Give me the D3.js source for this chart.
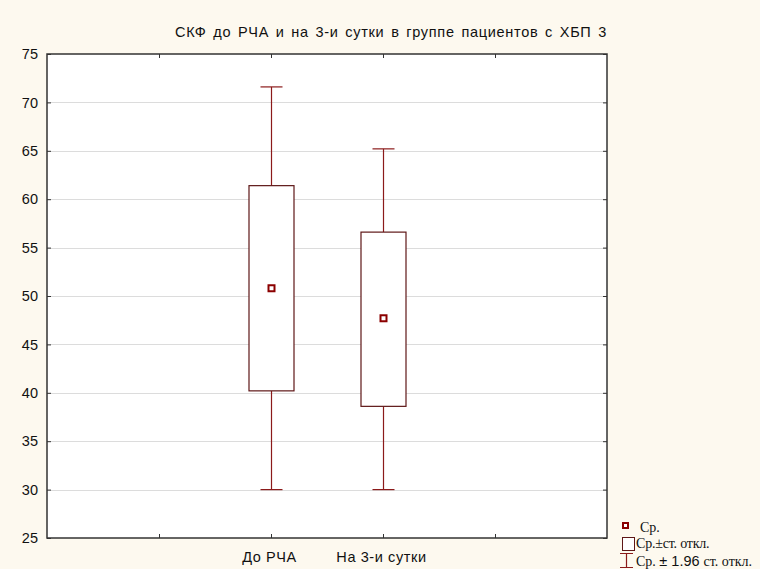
<!DOCTYPE html>
<html>
<head>
<meta charset="utf-8">
<script src="https://cdn.jsdelivr.net/npm/d3@7"></script>
<style>
  html, body { margin: 0; padding: 0; background: #fdf9ef; }
  svg { display: block; }
</style>
</head>
<body>
<svg id="chart" width="760" height="569"></svg>
<script>
// Groups and summary statistics (mean, mean ± SD, mean ± 1.96 SD)
const groups   = ["До РЧА", "На 3-и сутки"];
const means    = [50.8, 47.7];
const sdLow    = [40.2, 38.6];
const sdHigh   = [61.4, 56.6];
const ciLow    = [30.0, 30.0];
const ciHigh   = [71.6, 65.2];
const yTicks   = [25, 30, 35, 40, 45, 50, 55, 60, 65, 70, 75];
const title    = "СКФ до РЧА и на 3-и сутки в группе пациентов с ХБП 3";

const svg = d3.select("#chart");
const plot = { left: 47, right: 607, top: 54, bottom: 538 };
const markColor = "#8b1a1a";
const sans = "Liberation Sans, Arial, sans-serif";
const serif = "Liberation Serif, Times New Roman, serif";

const y = d3.scaleLinear().domain([25, 75]).range([plot.bottom, plot.top]);
// Category axis: groups sit on positions 2 and 3 of a 0..5 frame, ticks at 1..4
const x = d3.scaleLinear().domain([0, 5]).range([plot.left, plot.right]);
const pos = i => x(i + 2);

// Plot background
svg.append("rect")
  .attr("x", plot.left).attr("y", plot.top)
  .attr("width", plot.right - plot.left).attr("height", plot.bottom - plot.top)
  .attr("fill", "#ffffff");

// Horizontal grid lines
svg.append("g").selectAll("line")
  .data(yTicks.filter(t => t > 25 && t < 75))
  .join("line")
  .attr("x1", plot.left).attr("x2", plot.right)
  .attr("y1", d => Math.round(y(d)) + 0.5).attr("y2", d => Math.round(y(d)) + 0.5)
  .attr("stroke", "#dcdcdc").attr("stroke-width", 1);

// Left axis with labels, ticks pointing inward
const yAxis = svg.append("g")
  .attr("transform", `translate(${plot.left},0)`)
  .call(d3.axisLeft(y).tickValues(yTicks).tickSize(-4).tickPadding(9));
yAxis.select(".domain").remove();
yAxis.selectAll(".tick line").attr("stroke", "#333");
yAxis.selectAll("text")
  .attr("font-family", sans).attr("font-size", 14.5).attr("fill", "#111");

// Right axis ticks (no labels)
const yAxisR = svg.append("g")
  .attr("transform", `translate(${plot.right},0)`)
  .call(d3.axisRight(y).tickValues(yTicks).tickSize(-4).tickFormat(""));
yAxisR.select(".domain").remove();
yAxisR.selectAll(".tick line").attr("stroke", "#333");

// Bottom axis with category labels
const xAxis = svg.append("g")
  .attr("transform", `translate(0,${plot.bottom})`)
  .call(d3.axisBottom(x).tickValues([1, 2, 3, 4]).tickSize(-4).tickPadding(14)
    .tickFormat(d => groups[d - 2] || ""));
xAxis.select(".domain").remove();
xAxis.selectAll(".tick line").attr("stroke", "#333");
xAxis.selectAll("text")
  .attr("font-family", sans).attr("font-size", 14.5).attr("fill", "#111")
  .attr("letter-spacing", 0.6).attr("dx", -2);

// Top axis ticks
const xAxisT = svg.append("g")
  .attr("transform", `translate(0,${plot.top})`)
  .call(d3.axisTop(x).tickValues([1, 2, 3, 4]).tickSize(-4).tickFormat(""));
xAxisT.select(".domain").remove();
xAxisT.selectAll(".tick line").attr("stroke", "#333");

// Frame
svg.append("rect")
  .attr("x", plot.left).attr("y", plot.top)
  .attr("width", plot.right - plot.left).attr("height", plot.bottom - plot.top)
  .attr("fill", "none").attr("stroke", "#333").attr("stroke-width", 1.5);

// Whiskers, boxes and means
const boxW = 45, capW = 22;
const g = svg.append("g");
groups.forEach((name, i) => {
  const cx = Math.round(pos(i)) + 0.5;
  // whiskers
  g.append("line").attr("x1", cx).attr("x2", cx)
    .attr("y1", y(ciHigh[i])).attr("y2", y(sdHigh[i]))
    .attr("stroke", markColor).attr("stroke-width", 1.2);
  g.append("line").attr("x1", cx).attr("x2", cx)
    .attr("y1", y(sdLow[i])).attr("y2", y(ciLow[i]))
    .attr("stroke", markColor).attr("stroke-width", 1.2);
  // caps
  [ciHigh[i], ciLow[i]].forEach(v => {
    g.append("line").attr("x1", cx - capW / 2).attr("x2", cx + capW / 2)
      .attr("y1", y(v)).attr("y2", y(v))
      .attr("stroke", markColor).attr("stroke-width", 1.2);
  });
  // box (mean ± SD)
  g.append("rect")
    .attr("x", cx - boxW / 2).attr("y", y(sdHigh[i]))
    .attr("width", boxW).attr("height", y(sdLow[i]) - y(sdHigh[i]))
    .attr("fill", "#ffffff").attr("stroke", "#5e1717").attr("stroke-width", 1.2);
  // mean marker
  g.append("rect")
    .attr("x", cx - 3).attr("y", y(means[i]) - 3)
    .attr("width", 6).attr("height", 6)
    .attr("fill", "#ffffff").attr("stroke", "#8b0000").attr("stroke-width", 2);
});

// Title
svg.append("text")
  .attr("x", 391).attr("y", 37)
  .attr("text-anchor", "middle")
  .attr("font-family", sans)
  .attr("font-size", 14.5).attr("fill", "#111")
  .attr("letter-spacing", 0.7).attr("word-spacing", 2)
  .text(title);

// Legend
const lg = svg.append("g").attr("font-family", serif)
  .attr("font-size", 14).attr("fill", "#111");
lg.append("rect").attr("x", 623).attr("y", 523).attr("width", 5).attr("height", 5)
  .attr("fill", "#fff").attr("stroke", "#8b0000").attr("stroke-width", 2);
lg.append("text").attr("x", 640).attr("y", 532).text("Ср.");

lg.append("rect").attr("x", 622.5).attr("y", 537.5).attr("width", 12).attr("height", 13)
  .attr("fill", "#fff").attr("stroke", "#5e1717").attr("stroke-width", 1);
lg.append("text").attr("x", 636).attr("y", 548).attr("letter-spacing", -0.2).text("Ср.±ст. откл.");

lg.append("line").attr("x1", 626.5).attr("x2", 626.5).attr("y1", 553).attr("y2", 568)
  .attr("stroke", markColor).attr("stroke-width", 1.2);
lg.append("line").attr("x1", 620).attr("x2", 633).attr("y1", 553.5).attr("y2", 553.5)
  .attr("stroke", markColor).attr("stroke-width", 1);
lg.append("line").attr("x1", 620).attr("x2", 633).attr("y1", 567.5).attr("y2", 567.5)
  .attr("stroke", markColor).attr("stroke-width", 1);
const t3 = lg.append("text").attr("x", 636).attr("y", 566);
t3.append("tspan").text("Ср. ");
t3.append("tspan").attr("font-family", sans).attr("font-size", 14.5).text("± 1.96 ");
t3.append("tspan").text("ст. откл.");
</script>
</body>
</html>
